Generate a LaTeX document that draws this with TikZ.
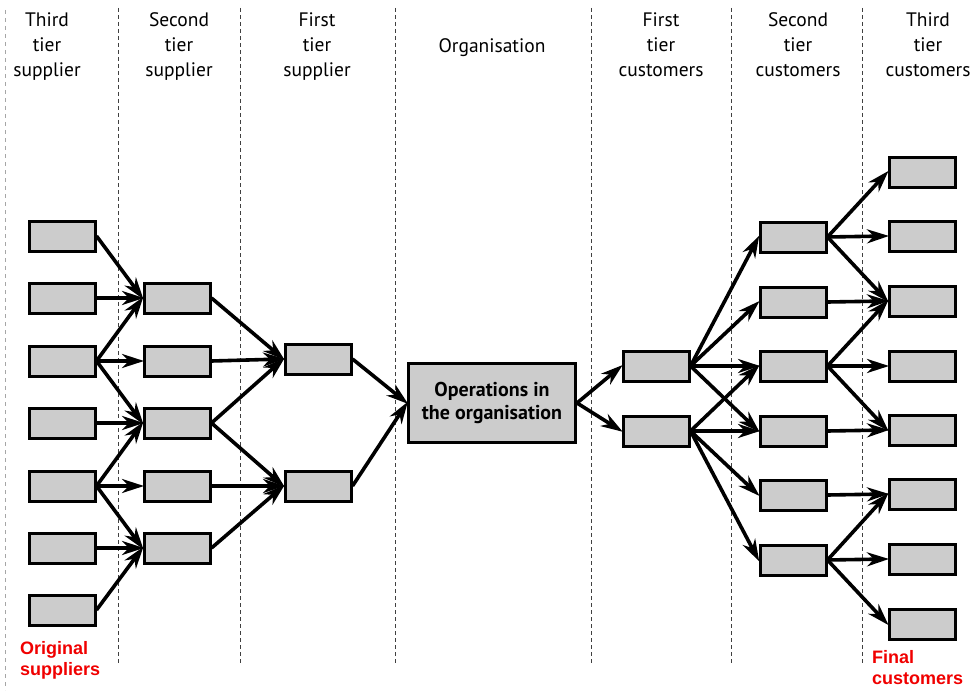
\documentclass[tikz,border=0pt]{standalone}
\usepackage{fontspec}
\setmainfont{PT Sans}
\newfontfamily\labelfont{Liberation Sans}
\usetikzlibrary{arrows.meta}
\definecolor{boxfill}{gray}{0.80}
\definecolor{redlab}{RGB}{240,0,0}
\tikzset{
  box/.style={draw=black, line width=3pt, fill=boxfill, minimum width=66pt, minimum height=30pt, inner sep=0pt},
  orgbox/.style={draw=black, line width=3pt, fill=boxfill, minimum width=167pt, minimum height=79pt, inner sep=0pt, align=center, font=\fontsize{20}{23}\selectfont\bfseries},
  flow/.style={line width=3.6pt, -{Stealth[length=22pt,width=14pt,inset=7pt]}, shorten >=-1.5pt},
  divider/.style={black!75, line width=0.9pt, dash pattern=on 4pt off 3pt},
  faintdiv/.style={black!35, line width=0.6pt, dash pattern=on 4pt off 4pt},
  hdr/.style={align=center, inner sep=0pt, anchor=north, font=\fontsize{19.5}{25}\selectfont},
  redtxt/.style={align=left, inner sep=0pt, anchor=north west, text=redlab, font=\labelfont\fontsize{18}{21}\selectfont\bfseries}
}
\begin{document}
\begin{tikzpicture}[x=1pt,y=-1pt]
\useasboundingbox (0,0) rectangle (978,693);
% dividers
\coordinate (v0t) at (5,10); \coordinate (v0b) at (5,690);
\draw[faintdiv] (v0t) -- (v0b);
\foreach \xx/\nm in {118/a,240/b,395/c,591/d,731/e,862/f}{
  \coordinate (v\nm t) at (\xx,8);
  \coordinate (v\nm b) at (\xx,665);
  \draw[divider] (v\nm t) -- (v\nm b);
}
% headers
\node[hdr] (h1) at (47,12) {Third\\tier\\supplier};
\node[hdr] (h2) at (179,12) {Second\\tier\\supplier};
\node[hdr] (h3) at (317,12) {First\\tier\\supplier};
\node[inner sep=0pt, anchor=base, font=\fontsize{19.5}{25}\selectfont] (h4) at (492,53) {Organisation};
\node[hdr] (h5) at (661,12) {First\\tier\\customers};
\node[hdr] (h6) at (798,12) {Second\\tier\\customers};
\node[hdr] (h7) at (928,12) {Third\\tier\\customers};
% third tier suppliers
\foreach \i/\yy in {1/236,2/298,3/361,4/423,5/486,6/548,7/610}{
  \node[box] (L\i) at (62,\yy) {};
}
% second tier suppliers
\foreach \i/\yy in {1/298,2/361,3/423,4/486,5/548}{
  \node[box] (S\i) at (177,\yy) {};
}
% first tier suppliers
\node[box] (F1) at (318,359) {};
\node[box] (F2) at (318,486) {};
% organisation
\node[orgbox] (O) at (492,403) {Operations in\\the organisation};
% first tier customers
\node[box] (C1) at (656,366) {};
\node[box] (C2) at (656,431) {};
% second tier customers
\foreach \i/\yy in {1/237,2/302,3/366,4/431,5/495,6/560}{
  \node[box] (D\i) at (793,\yy) {};
}
% third tier customers
\foreach \i/\yy in {1/172,2/236,3/301,4/366,5/430,6/494,7/559,8/624}{
  \node[box] (E\i) at (922,\yy) {};
}
% arrows
\foreach \a/\b in {L1/S1,L2/S1,L3/S1,L3/S2,L3/S3,L4/S3,L5/S3,L5/S4,L5/S5,L6/S5,L7/S5,
                   S1/F1,S2/F1,S3/F1,S3/F2,S4/F2,S5/F2,F1/O,F2/O,
                   O/C1,O/C2,
                   C1/D1,C1/D2,C1/D3,C1/D4,C2/D3,C2/D4,C2/D5,C2/D6,
                   D1/E1,D1/E2,D1/E3,D2/E3,D3/E3,D3/E4,D3/E5,D4/E5,D5/E6,D6/E6,D6/E7,D6/E8}{
  \draw[flow] (\a.east) -- (\b.west);
}
% red labels
\node[redtxt] (orig) at (20,641) {Original\\suppliers};
\node[redtxt] (final) at (872,650) {Final\\customers};
\end{tikzpicture}
\end{document}
